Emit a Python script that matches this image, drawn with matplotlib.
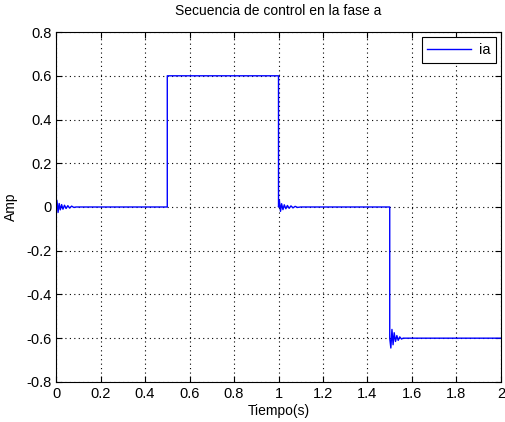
import numpy as np
import matplotlib.pyplot as plt

plt.rcParams['font.family'] = ['Liberation Sans', 'DejaVu Sans']

# control sequence for phase a (time in s, current in A)
t_start = [0.0, 0.004, 0.009, 0.014, 0.019, 0.025, 0.031, 0.038, 0.045, 0.053, 0.061, 0.070, 0.080, 0.090]
i_start = [0.0, 0.03, -0.025, 0.016, -0.013, 0.011, -0.010, 0.008, -0.007, 0.006, -0.005, 0.004, -0.002, 0.0]

t_step1 = [0.5, 0.5, 1.0, 1.0]
i_step1 = [0.0, 0.6, 0.6, 0.0]

t_ring2 = [1.004, 1.009, 1.014, 1.020, 1.026, 1.033, 1.040, 1.048, 1.056, 1.065, 1.075, 1.085, 1.1]
i_ring2 = [0.03, -0.02, 0.015, -0.012, 0.010, -0.008, 0.007, -0.006, 0.005, -0.004, 0.003, -0.002, 0.0]

t_step2 = [1.5, 1.5]
i_step2 = [0.0, -0.6]

t_ring3 = [1.505, 1.510, 1.515, 1.520, 1.526, 1.532, 1.538, 1.545, 1.553, 1.56, 2.0]
i_ring3 = [-0.645, -0.56, -0.63, -0.575, -0.615, -0.588, -0.61, -0.594, -0.604, -0.6, -0.6]

t = np.array(t_start + t_step1 + t_ring2 + t_step2 + t_ring3)
ia = np.array(i_start + i_step1 + i_ring2 + i_step2 + i_ring3)

fig = plt.figure(figsize=(5.05, 4.22), dpi=100)
ax = fig.add_axes([0.111, 0.095, 0.881, 0.829])

ax.plot(t, ia, color='b', lw=1.0, label='ia')

ax.set_xlim(0, 2)
ax.set_ylim(-0.8, 0.8)
ax.set_xticks(np.arange(0, 2.01, 0.2))
ax.set_xticklabels(['0', '0.2', '0.4', '0.6', '0.8', '1', '1.2', '1.4', '1.6', '1.8', '2'])
ax.set_yticks(np.arange(-0.8, 0.81, 0.2))
ax.set_yticklabels(['-0.8', '-0.6', '-0.4', '-0.2', '0', '0.2', '0.4', '0.6', '0.8'])
ax.tick_params(direction='in', top=True, right=True, labelsize=10.5, length=4)
ax.tick_params(axis='x', pad=4)
ax.tick_params(axis='y', pad=3)
ax.grid(True, color='k', linestyle=(0, (1, 3)), linewidth=0.8)

ax.set_title('Secuencia de control en la fase a', fontsize=10, pad=12)
ax.set_xlabel('Tiempo(s)', fontsize=10, labelpad=2)
ax.set_ylabel('Amp', fontsize=10, labelpad=6)

leg = ax.legend(loc='upper right', fontsize=10.5, fancybox=False, framealpha=1,
                edgecolor='k', handlelength=3.0, handletextpad=0.5,
                borderaxespad=0.35)
leg.get_frame().set_linewidth(0.8)

fig.savefig('out.png', dpi=100)
